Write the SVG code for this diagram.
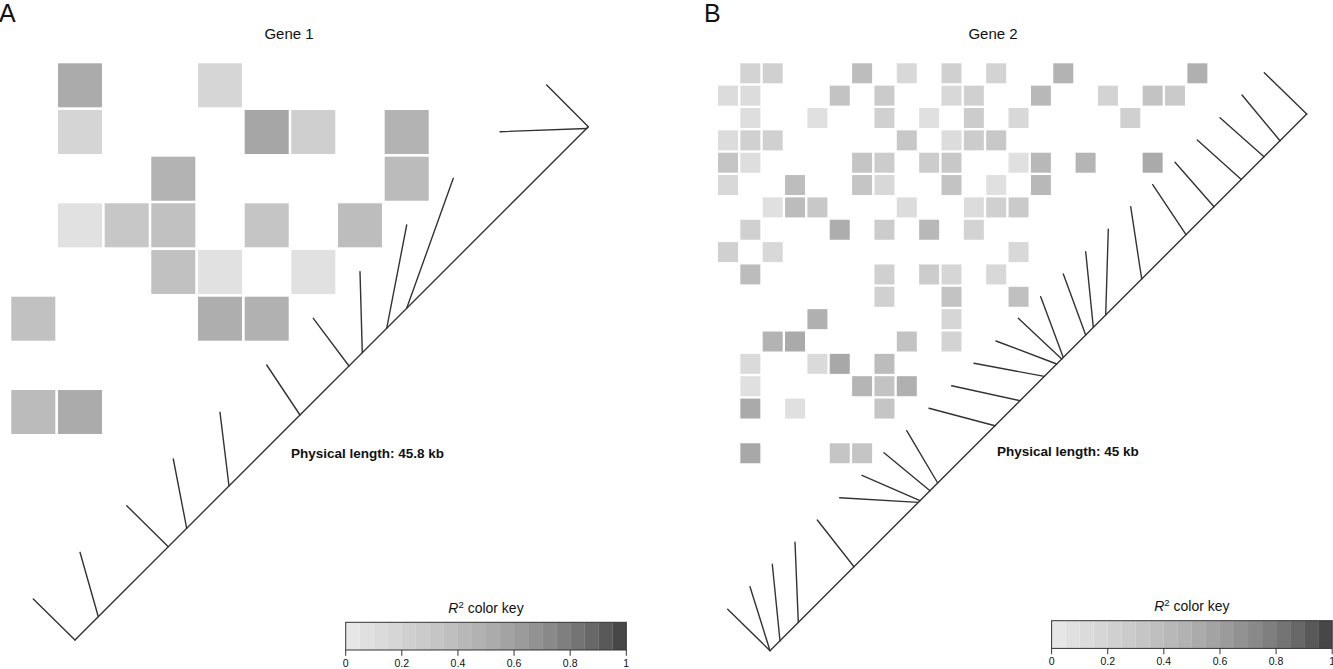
<svg xmlns="http://www.w3.org/2000/svg" width="1333" height="669" viewBox="0 0 1333 669">
<style>
text{font-family:"Liberation Sans",Arial,sans-serif;fill:#111}
.panel{font-size:25px}
.gene{font-size:15px;text-anchor:middle}
.phys{font-size:13.5px;font-weight:bold}
.ktitle{font-size:14px;text-anchor:middle}
.klab{font-size:10.5px;text-anchor:middle}
.ln{stroke:#333;stroke-width:1.4;fill:none;stroke-linecap:round}
.kbox{fill:none;stroke:#333;stroke-width:1}
.ktick{stroke:#333;stroke-width:1}
</style>
<rect width="1333" height="669" fill="#fff"/>
<text class="panel" x="-1" y="22">A</text>
<text class="panel" x="704" y="22">B</text>
<text class="gene" x="289" y="39">Gene 1</text>
<text class="gene" x="993" y="39">Gene 2</text>

<g id="heatmapA">
<!-- size 44, pitch 46.67, x=11.3+46.67c, y=63.3+46.67r -->
<rect x="58" y="63.3" width="44" height="44" fill="#ababab"/>
<rect x="198" y="63.3" width="44" height="44" fill="#d6d6d6"/>
<rect x="58" y="110" width="44" height="44" fill="#d5d5d5"/>
<rect x="244.7" y="110" width="44" height="44" fill="#a6a6a6"/>
<rect x="291.3" y="110" width="44" height="44" fill="#cfcfcf"/>
<rect x="384.7" y="110" width="44" height="44" fill="#b3b3b3"/>
<rect x="151.3" y="156.7" width="44" height="44" fill="#b3b3b3"/>
<rect x="384.7" y="156.7" width="44" height="44" fill="#bbbbbb"/>
<rect x="58" y="203.3" width="44" height="44" fill="#e1e1e1"/>
<rect x="104.7" y="203.3" width="44" height="44" fill="#c7c7c7"/>
<rect x="151.3" y="203.3" width="44" height="44" fill="#c1c1c1"/>
<rect x="244.7" y="203.3" width="44" height="44" fill="#c5c5c5"/>
<rect x="338" y="203.3" width="44" height="44" fill="#bdbdbd"/>
<rect x="151.3" y="250" width="44" height="44" fill="#c1c1c1"/>
<rect x="198" y="250" width="44" height="44" fill="#e1e1e1"/>
<rect x="291.3" y="250" width="44" height="44" fill="#e1e1e1"/>
<rect x="11.3" y="296.7" width="44" height="44" fill="#c1c1c1"/>
<rect x="198" y="296.7" width="44" height="44" fill="#aeaeae"/>
<rect x="244.7" y="296.7" width="44" height="44" fill="#b1b1b1"/>
<rect x="11.3" y="390" width="44" height="44" fill="#bbbbbb"/>
<rect x="58" y="390" width="44" height="44" fill="#ababab"/>
</g>

<g id="heatmapB">
<!-- size 20, pitch 22.35, x=718+22.35c, y=63.3+22.35r -->
<!-- row0 -->
<rect x="740.35" y="63.3" width="20" height="20" fill="#d3d3d3"/>
<rect x="762.7" y="63.3" width="20" height="20" fill="#d0d0d0"/>
<rect x="852.1" y="63.3" width="20" height="20" fill="#bdbdbd"/>
<rect x="896.8" y="63.3" width="20" height="20" fill="#d8d8d8"/>
<rect x="941.5" y="63.3" width="20" height="20" fill="#d0d0d0"/>
<rect x="986.2" y="63.3" width="20" height="20" fill="#d3d3d3"/>
<rect x="1053.25" y="63.3" width="20" height="20" fill="#b3b3b3"/>
<rect x="1187.35" y="63.3" width="20" height="20" fill="#b0b0b0"/>
<!-- row1 -->
<rect x="718" y="85.65" width="20" height="20" fill="#dcdcdc"/>
<rect x="740.35" y="85.65" width="20" height="20" fill="#dcdcdc"/>
<rect x="829.75" y="85.65" width="20" height="20" fill="#c3c3c3"/>
<rect x="874.45" y="85.65" width="20" height="20" fill="#cbcbcb"/>
<rect x="941.5" y="85.65" width="20" height="20" fill="#d8d8d8"/>
<rect x="963.85" y="85.65" width="20" height="20" fill="#d0d0d0"/>
<rect x="1030.9" y="85.65" width="20" height="20" fill="#b8b8b8"/>
<rect x="1097.95" y="85.65" width="20" height="20" fill="#d3d3d3"/>
<rect x="1142.65" y="85.65" width="20" height="20" fill="#c3c3c3"/>
<rect x="1165" y="85.65" width="20" height="20" fill="#cacaca"/>
<!-- row2 -->
<rect x="740.35" y="108" width="20" height="20" fill="#dedede"/>
<rect x="807.4" y="108" width="20" height="20" fill="#e0e0e0"/>
<rect x="874.45" y="108" width="20" height="20" fill="#d0d0d0"/>
<rect x="919.15" y="108" width="20" height="20" fill="#e0e0e0"/>
<rect x="963.85" y="108" width="20" height="20" fill="#cccccc"/>
<rect x="1008.55" y="108" width="20" height="20" fill="#d8d8d8"/>
<rect x="1120.3" y="108" width="20" height="20" fill="#d0d0d0"/>
<!-- row3 -->
<rect x="718" y="130.35" width="20" height="20" fill="#dcdcdc"/>
<rect x="740.35" y="130.35" width="20" height="20" fill="#d0d0d0"/>
<rect x="762.7" y="130.35" width="20" height="20" fill="#d0d0d0"/>
<rect x="896.8" y="130.35" width="20" height="20" fill="#c8c8c8"/>
<rect x="941.5" y="130.35" width="20" height="20" fill="#dcdcdc"/>
<rect x="963.85" y="130.35" width="20" height="20" fill="#cccccc"/>
<rect x="986.2" y="130.35" width="20" height="20" fill="#c8c8c8"/>
<!-- row4 -->
<rect x="718" y="152.7" width="20" height="20" fill="#c5c5c5"/>
<rect x="740.35" y="152.7" width="20" height="20" fill="#dedede"/>
<rect x="852.1" y="152.7" width="20" height="20" fill="#c5c5c5"/>
<rect x="874.45" y="152.7" width="20" height="20" fill="#cccccc"/>
<rect x="919.15" y="152.7" width="20" height="20" fill="#cccccc"/>
<rect x="941.5" y="152.7" width="20" height="20" fill="#c8c8c8"/>
<rect x="1008.55" y="152.7" width="20" height="20" fill="#e0e0e0"/>
<rect x="1030.9" y="152.7" width="20" height="20" fill="#b8b8b8"/>
<rect x="1075.6" y="152.7" width="20" height="20" fill="#b5b5b5"/>
<rect x="1142.65" y="152.7" width="20" height="20" fill="#aaaaaa"/>
<!-- row5 -->
<rect x="718" y="175.05" width="20" height="20" fill="#d8d8d8"/>
<rect x="785.05" y="175.05" width="20" height="20" fill="#bdbdbd"/>
<rect x="852.1" y="175.05" width="20" height="20" fill="#c5c5c5"/>
<rect x="874.45" y="175.05" width="20" height="20" fill="#d8d8d8"/>
<rect x="941.5" y="175.05" width="20" height="20" fill="#c3c3c3"/>
<rect x="986.2" y="175.05" width="20" height="20" fill="#e0e0e0"/>
<rect x="1030.9" y="175.05" width="20" height="20" fill="#b8b8b8"/>
<!-- row6 -->
<rect x="762.7" y="197.4" width="20" height="20" fill="#e0e0e0"/>
<rect x="785.05" y="197.4" width="20" height="20" fill="#bcbcbc"/>
<rect x="807.4" y="197.4" width="20" height="20" fill="#c8c8c8"/>
<rect x="896.8" y="197.4" width="20" height="20" fill="#dcdcdc"/>
<rect x="963.85" y="197.4" width="20" height="20" fill="#dcdcdc"/>
<rect x="986.2" y="197.4" width="20" height="20" fill="#d0d0d0"/>
<rect x="1008.55" y="197.4" width="20" height="20" fill="#cacaca"/>
<!-- row7 -->
<rect x="740.35" y="219.75" width="20" height="20" fill="#d0d0d0"/>
<rect x="829.75" y="219.75" width="20" height="20" fill="#adadad"/>
<rect x="874.45" y="219.75" width="20" height="20" fill="#cccccc"/>
<rect x="919.15" y="219.75" width="20" height="20" fill="#b8b8b8"/>
<rect x="963.85" y="219.75" width="20" height="20" fill="#d3d3d3"/>
<!-- row8 -->
<rect x="718" y="242.1" width="20" height="20" fill="#d0d0d0"/>
<rect x="762.7" y="242.1" width="20" height="20" fill="#d8d8d8"/>
<rect x="1008.55" y="242.1" width="20" height="20" fill="#d8d8d8"/>
<!-- row9 -->
<rect x="740.35" y="264.45" width="20" height="20" fill="#bcbcbc"/>
<rect x="874.45" y="264.45" width="20" height="20" fill="#d0d0d0"/>
<rect x="919.15" y="264.45" width="20" height="20" fill="#cccccc"/>
<rect x="941.5" y="264.45" width="20" height="20" fill="#d6d6d6"/>
<rect x="986.2" y="264.45" width="20" height="20" fill="#d8d8d8"/>
<!-- row10 -->
<rect x="874.45" y="286.8" width="20" height="20" fill="#d0d0d0"/>
<rect x="941.5" y="286.8" width="20" height="20" fill="#c3c3c3"/>
<rect x="1008.55" y="286.8" width="20" height="20" fill="#c0c0c0"/>
<!-- row11 -->
<rect x="807.4" y="309.15" width="20" height="20" fill="#b0b0b0"/>
<rect x="941.5" y="309.15" width="20" height="20" fill="#d6d6d6"/>
<!-- row12 -->
<rect x="762.7" y="331.5" width="20" height="20" fill="#b3b3b3"/>
<rect x="785.05" y="331.5" width="20" height="20" fill="#aaaaaa"/>
<rect x="896.8" y="331.5" width="20" height="20" fill="#c3c3c3"/>
<rect x="941.5" y="331.5" width="20" height="20" fill="#d3d3d3"/>
<!-- row13 -->
<rect x="740.35" y="353.85" width="20" height="20" fill="#dadada"/>
<rect x="807.4" y="353.85" width="20" height="20" fill="#dadada"/>
<rect x="829.75" y="353.85" width="20" height="20" fill="#a8a8a8"/>
<rect x="874.45" y="353.85" width="20" height="20" fill="#bcbcbc"/>
<!-- row14 -->
<rect x="740.35" y="376.2" width="20" height="20" fill="#e0e0e0"/>
<rect x="852.1" y="376.2" width="20" height="20" fill="#b5b5b5"/>
<rect x="874.45" y="376.2" width="20" height="20" fill="#c3c3c3"/>
<rect x="896.8" y="376.2" width="20" height="20" fill="#b0b0b0"/>
<!-- row15 -->
<rect x="740.35" y="398.55" width="20" height="20" fill="#aaaaaa"/>
<rect x="785.05" y="398.55" width="20" height="20" fill="#e0e0e0"/>
<rect x="874.45" y="398.55" width="20" height="20" fill="#c5c5c5"/>
<!-- row17 -->
<rect x="740.35" y="443.25" width="20" height="20" fill="#a8a8a8"/>
<rect x="829.75" y="443.25" width="20" height="20" fill="#c5c5c5"/>
<rect x="852.1" y="443.25" width="20" height="20" fill="#c5c5c5"/>
</g>

<g id="connectors">
<g id="axisA">
<line class="ln" x1="75" y1="640" x2="588.3" y2="126.7"/>
<line class="ln" x1="33.3" y1="599" x2="75" y2="640"/>
<line class="ln" x1="80" y1="552.3" x2="98.3" y2="616.7"/>
<line class="ln" x1="126.7" y1="505.7" x2="168.3" y2="546.7"/>
<line class="ln" x1="173.3" y1="459" x2="186.7" y2="528.3"/>
<line class="ln" x1="220" y1="412.3" x2="229" y2="486"/>
<line class="ln" x1="266.7" y1="365" x2="300" y2="415"/>
<line class="ln" x1="313.3" y1="318.3" x2="349" y2="366"/>
<line class="ln" x1="360" y1="271.7" x2="362.3" y2="352.7"/>
<line class="ln" x1="406.7" y1="225" x2="386.7" y2="328.3"/>
<line class="ln" x1="453.3" y1="178.3" x2="406.7" y2="308.3"/>
<line class="ln" x1="500" y1="131.7" x2="587" y2="128.5"/>
<line class="ln" x1="546.7" y1="85" x2="588.3" y2="126.7"/>
</g>
<g id="axisB">
<line class="ln" x1="770" y1="650.7" x2="1306.7" y2="114"/>
<line class="ln" x1="727.7" y1="609.3" x2="770" y2="650.7"/>
<line class="ln" x1="750" y1="586.7" x2="769.5" y2="649"/>
<line class="ln" x1="772.3" y1="564.3" x2="780" y2="640.7"/>
<line class="ln" x1="795" y1="542.3" x2="798.3" y2="622.4"/>
<line class="ln" x1="817.3" y1="520" x2="854" y2="566.7"/>
<line class="ln" x1="839.7" y1="497.7" x2="918.3" y2="502.4"/>
<line class="ln" x1="862" y1="475.3" x2="920" y2="500.7"/>
<line class="ln" x1="884" y1="452.7" x2="930" y2="490.7"/>
<line class="ln" x1="906.7" y1="430.7" x2="937.7" y2="483"/>
<line class="ln" x1="929" y1="408.3" x2="995" y2="425.7"/>
<line class="ln" x1="951.7" y1="385.7" x2="1020" y2="400.7"/>
<line class="ln" x1="974" y1="363.3" x2="1044.3" y2="376.4"/>
<line class="ln" x1="996" y1="341" x2="1056.7" y2="364"/>
<line class="ln" x1="1018.3" y1="318.3" x2="1061.7" y2="359"/>
<line class="ln" x1="1040.7" y1="296.7" x2="1063.3" y2="357.4"/>
<line class="ln" x1="1063.3" y1="274" x2="1085.7" y2="335"/>
<line class="ln" x1="1085.7" y1="251.7" x2="1093.3" y2="327.4"/>
<line class="ln" x1="1108.3" y1="229.3" x2="1105.7" y2="315"/>
<line class="ln" x1="1130.7" y1="206.7" x2="1141.7" y2="279"/>
<line class="ln" x1="1152.7" y1="184.7" x2="1186" y2="234.7"/>
<line class="ln" x1="1175" y1="162.3" x2="1214" y2="206.7"/>
<line class="ln" x1="1197.3" y1="140" x2="1241.3" y2="179.4"/>
<line class="ln" x1="1220" y1="117.7" x2="1264" y2="156.7"/>
<line class="ln" x1="1242" y1="95" x2="1280" y2="140.7"/>
<line class="ln" x1="1264.3" y1="72.7" x2="1306.7" y2="114"/>
</g>
</g>

<text class="phys" x="291" y="458.3">Physical length: 45.8 kb</text>
<text class="phys" x="997" y="456">Physical length: 45 kb</text>

<defs>
<g id="keybar">
<rect x="0" y="0" width="14.03" height="27.7" fill="#e6e6e6"/>
<rect x="14.03" y="0" width="14.03" height="27.7" fill="#e0e0e0"/>
<rect x="28.06" y="0" width="14.03" height="27.7" fill="#dbdbdb"/>
<rect x="42.09" y="0" width="14.03" height="27.7" fill="#d6d6d6"/>
<rect x="56.12" y="0" width="14.03" height="27.7" fill="#d0d0d0"/>
<rect x="70.15" y="0" width="14.03" height="27.7" fill="#cbcbcb"/>
<rect x="84.18" y="0" width="14.03" height="27.7" fill="#c5c5c5"/>
<rect x="98.21" y="0" width="14.03" height="27.7" fill="#bfbfbf"/>
<rect x="112.24" y="0" width="14.03" height="27.7" fill="#b8b8b8"/>
<rect x="126.27" y="0" width="14.03" height="27.7" fill="#b2b2b2"/>
<rect x="140.3" y="0" width="14.03" height="27.7" fill="#ababab"/>
<rect x="154.33" y="0" width="14.03" height="27.7" fill="#a3a3a3"/>
<rect x="168.36" y="0" width="14.03" height="27.7" fill="#9b9b9b"/>
<rect x="182.39" y="0" width="14.03" height="27.7" fill="#929292"/>
<rect x="196.42" y="0" width="14.03" height="27.7" fill="#898989"/>
<rect x="210.45" y="0" width="14.03" height="27.7" fill="#7f7f7f"/>
<rect x="224.48" y="0" width="14.03" height="27.7" fill="#747474"/>
<rect x="238.51" y="0" width="14.03" height="27.7" fill="#686868"/>
<rect x="252.54" y="0" width="14.03" height="27.7" fill="#595959"/>
<rect x="266.57" y="0" width="14.03" height="27.7" fill="#474747"/>
<rect class="kbox" x="0" y="0" width="280.6" height="27.7"/>
<line class="ktick" x1="0" y1="27.7" x2="0" y2="33.5"/>
<line class="ktick" x1="56.12" y1="27.7" x2="56.12" y2="33.5"/>
<line class="ktick" x1="112.24" y1="27.7" x2="112.24" y2="33.5"/>
<line class="ktick" x1="168.36" y1="27.7" x2="168.36" y2="33.5"/>
<line class="ktick" x1="224.48" y1="27.7" x2="224.48" y2="33.5"/>
<line class="ktick" x1="280.6" y1="27.7" x2="280.6" y2="33.5"/>
<text class="klab" x="0" y="44.5">0</text>
<text class="klab" x="56.12" y="44.5">0.2</text>
<text class="klab" x="112.24" y="44.5">0.4</text>
<text class="klab" x="168.36" y="44.5">0.6</text>
<text class="klab" x="224.48" y="44.5">0.8</text>
<text class="klab" x="280.6" y="44.5">1</text>
<text class="ktitle" x="140.3" y="-9.5"><tspan font-style="italic">R</tspan><tspan dy="-5" font-size="9.5">2</tspan><tspan dy="5"> color key</tspan></text>
</g>
</defs>
<g id="keyA"><use href="#keybar" x="345.7" y="622.3"/></g>
<g id="keyB"><use href="#keybar" x="1051.6" y="620.7"/></g>
</svg>
